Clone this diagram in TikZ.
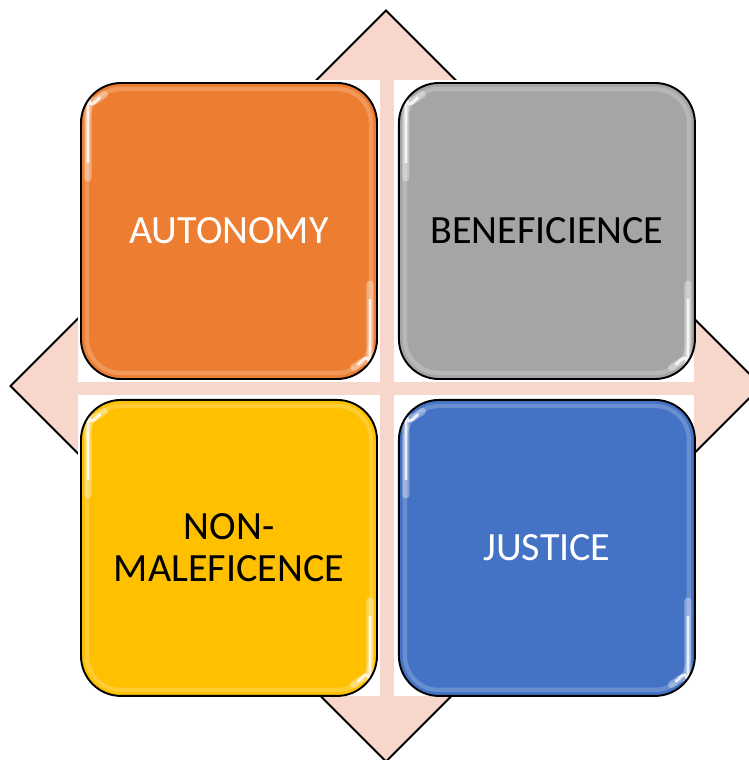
\documentclass[tikz,border=0pt]{standalone}
\usepackage{fontspec}
\setmainfont{Carlito}
\usetikzlibrary{positioning,shapes.geometric,calc}
\definecolor{autocol}{HTML}{ED7D31}
\definecolor{benecol}{HTML}{A5A5A5}
\definecolor{nonmcol}{HTML}{FFC000}
\definecolor{justcol}{HTML}{4472C4}
\definecolor{backcol}{HTML}{F7D6CC}
\tikzset{
	principle/.style={draw=black, line width=1.1pt, rounded corners=0.8cm, minimum width=5.92cm, minimum height=5.92cm, inner sep=0pt, align=center, font=\fontsize{22.8}{24}\selectfont,
		path picture={
			\coordinate (nw) at (path picture bounding box.north west);
			\coordinate (se) at (path picture bounding box.south east);
			\draw[white, opacity=0.2, line width=2.5pt, rounded corners=0.68cm] ([shift={(0.12,-0.12)}]nw) rectangle ([shift={(-0.12,0.12)}]se);
			\draw[white, opacity=0.35, line width=4pt, line cap=round] ($(nw)+(0.14,-1.9)$) -- ++(0,1.1) arc (180:120:0.66);
			\draw[white, opacity=0.8, line width=1.6pt, line cap=round] ($(nw)+(0.14,-1.6)$) -- ++(0,0.8) arc (180:130:0.66);
			\draw[white, opacity=0.35, line width=4pt, line cap=round] ($(se)+(-0.14,1.9)$) -- ++(0,-1.1) arc (0:-60:0.66);
			\draw[white, opacity=0.8, line width=1.6pt, line cap=round] ($(se)+(-0.14,1.6)$) -- ++(0,-0.8) arc (0:-50:0.66);
		}},
	gap/.style={fill=white, draw=none}
}
\begin{document}
\begin{tikzpicture}
	\useasboundingbox (0,0) rectangle (14.98,-15.2);
	
	\node[diamond, draw=black, line width=1.1pt, fill=backcol, minimum width=15.04cm, minimum height=15.04cm, inner sep=0pt, aspect=1] (back) at (7.72,-7.72) {};
	
	\fill[gap] (1.56,-1.6) rectangle (7.6,-7.64);
	\fill[gap] (7.88,-1.6) rectangle (13.88,-7.64);
	\fill[gap] (1.56,-7.9) rectangle (7.6,-13.92);
	\fill[gap] (7.88,-7.9) rectangle (13.88,-13.92);
	
	\node[principle, fill=autocol, text=white] (auto) at (4.58,-4.62) {AUTONOMY};
	\node[principle, fill=benecol, right=0.4cm of auto] (bene) {BENEFICIENCE};
	\node[principle, fill=nonmcol, below=0.38cm of auto] (nonm) {NON-\\MALEFICENCE};
	\node[principle, fill=justcol, text=white, below=0.38cm of bene] (just) {JUSTICE};
\end{tikzpicture}
\end{document}
